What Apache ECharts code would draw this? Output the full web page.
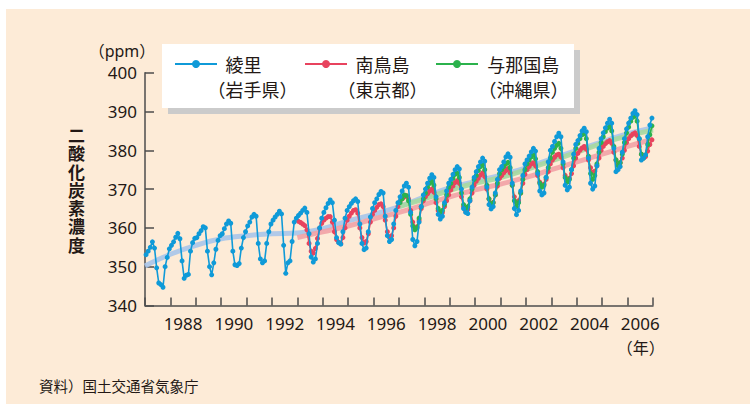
<!DOCTYPE html>
<html><head><meta charset="utf-8">
<script src="https://cdn.jsdelivr.net/npm/echarts@6/dist/echarts.min.js"></script>
<style>
html,body{margin:0;padding:0;background:#fff;}
#wrap{position:relative;width:750px;height:404px;overflow:hidden;}
#panel{position:absolute;left:6px;top:9px;right:0;bottom:0;background:#fdebd7;}
#chart{position:absolute;left:0;top:0;width:750px;height:404px;}
#ytitle{position:absolute;left:67px;top:127px;writing-mode:vertical-rl;text-orientation:upright;
  font:bold 17px "Noto Sans CJK JP",sans-serif;letter-spacing:1.3px;line-height:18px;color:#231815;white-space:nowrap;}
</style></head><body>
<div id="wrap"><div id="panel"></div><div id="chart"></div><div id="ytitle"></div></div>
<script>
// Year categories (x axis)
const years = ['1987','1988','1989','1990','1991','1992','1993','1994','1995','1996',
               '1997','1998','1999','2000','2001','2002','2003','2004','2005','2006'];
const yTicks = [340, 350, 360, 370, 380, 390, 400];

// 綾里（岩手県） monthly, Jan 1987 - Dec 2006
const ryoriStart = 1987;
const ryori = [
 353.1,354.0,355.0,356.4,354.8,349.7,345.8,345.4,344.7,350.0,352.4,354.6,
 355.5,356.4,357.6,358.6,357.2,351.5,347.0,347.8,348.0,354.0,356.2,357.3,
 357.5,358.5,359.3,360.3,360.0,354.0,350.0,347.9,351.0,354.5,356.8,358.0,
 358.5,359.8,361.0,361.8,361.2,354.0,350.5,350.3,350.8,354.8,357.5,359.0,
 360.5,361.5,362.8,363.5,363.0,356.0,352.0,351.0,351.5,356.0,359.0,361.0,
 362.0,362.8,363.5,364.3,363.6,355.5,348.3,351.0,351.5,356.5,361.5,362.5,
 363.2,363.8,364.5,365.1,364.0,358.5,352.5,351.2,352.0,356.0,360.0,362.5,
 364.0,365.2,366.3,367.2,366.5,362.0,357.5,356.2,355.8,359.0,362.5,364.5,
 365.5,366.3,367.0,367.5,366.8,361.0,356.0,354.4,354.8,359.0,362.8,365.0,
 366.5,367.5,368.6,369.4,369.0,363.0,358.0,356.5,357.0,361.0,364.5,366.5,
 368.0,369.5,370.8,371.5,370.5,364.0,357.0,355.4,356.5,361.5,365.5,368.5,
 370.0,371.5,372.8,373.7,373.0,368.0,363.5,362.3,363.0,366.5,369.5,371.5,
 372.5,373.8,375.0,375.8,375.2,370.0,365.0,364.0,363.7,367.0,370.5,373.0,
 374.5,375.8,377.0,378.0,377.2,370.5,366.0,364.9,365.5,369.0,372.5,375.0,
 375.8,377.0,378.3,379.1,378.2,371.5,365.0,363.4,364.5,369.5,373.5,376.5,
 377.5,378.5,379.6,380.5,379.8,374.0,369.5,368.5,369.0,373.0,377.0,380.0,
 381.0,382.3,383.5,384.4,383.5,377.0,371.0,369.8,370.5,375.0,379.0,381.5,
 382.5,383.8,385.0,385.7,384.8,378.0,371.5,370.0,370.8,376.0,380.5,383.0,
 384.5,385.8,387.0,388.0,387.0,380.5,374.5,375.0,375.8,379.5,383.0,385.5,
 387.0,388.3,389.5,390.2,389.2,383.0,377.5,378.0,378.8,383.5,386.5,388.3
];

// 南鳥島（東京都） monthly, Jan 1993 - Dec 2006
const mnmStart = 1993;
const minamitorishima = [
 361.7,361.4,361.0,360.6,359.5,356.0,354.0,353.5,354.7,357.3,359.9,361.2,
 362.0,362.5,362.9,362.9,361.5,359.0,357.0,356.3,356.0,357.5,360.0,362.0,
 363.0,363.8,364.5,364.7,363.8,360.0,357.5,356.1,356.5,358.5,361.5,363.5,
 364.5,365.3,366.0,366.2,365.5,362.0,359.0,357.6,358.0,360.0,363.0,365.5,
 366.8,367.5,368.0,368.3,367.5,364.5,361.5,360.0,360.3,362.0,365.0,367.0,
 368.0,368.8,369.5,370.0,369.2,366.5,364.5,363.5,364.0,365.5,367.0,368.5,
 369.8,370.8,371.7,372.2,371.5,368.0,365.5,364.3,364.8,367.0,369.0,371.0,
 372.0,372.8,373.6,374.2,373.2,370.0,367.5,366.3,366.6,368.5,370.8,372.8,
 373.5,374.2,374.8,375.3,374.2,371.0,368.0,366.5,367.0,369.0,371.5,373.8,
 375.0,375.8,376.5,376.8,376.0,373.5,371.8,371.0,371.3,372.5,374.5,376.5,
 377.5,378.2,378.8,379.0,378.3,375.5,373.5,372.5,372.8,374.0,376.0,378.0,
 379.2,380.0,380.6,381.0,380.3,377.5,375.5,374.3,374.6,376.0,378.0,380.0,
 381.0,381.7,382.2,382.5,381.8,379.5,377.5,376.5,376.8,378.0,380.0,382.0,
 383.0,383.7,384.2,384.5,383.8,381.0,379.0,378.0,378.4,379.8,381.5,382.7
];

// 与那国島（沖縄県） monthly, Jan 1997 - Dec 2006
const yonStart = 1997;
const yonaguni = [
 366.5,367.5,368.5,368.3,367.0,363.5,360.5,359.5,360.0,362.5,365.5,367.5,
 369.0,370.5,371.5,372.0,371.0,367.5,365.0,364.0,364.5,366.0,368.5,370.5,
 371.5,372.8,373.8,374.1,373.0,369.0,366.0,365.0,365.5,367.5,370.0,372.5,
 373.5,374.8,375.8,376.2,375.0,371.0,367.5,366.0,366.5,368.5,371.5,374.0,
 375.0,375.8,376.5,376.9,375.5,371.0,367.0,365.5,366.5,369.0,372.5,375.0,
 376.5,377.5,378.3,378.8,377.8,374.5,371.5,370.5,371.0,373.0,375.5,378.0,
 379.5,380.5,381.3,381.8,380.5,376.5,373.0,371.8,372.5,375.0,378.0,380.5,
 381.8,383.0,384.0,384.4,383.0,378.5,374.0,372.5,373.5,376.5,379.5,382.0,
 383.5,384.8,385.7,386.1,385.0,381.0,377.5,376.0,376.8,379.0,382.0,384.5,
 386.0,387.5,388.5,389.0,387.5,383.0,379.0,378.0,378.8,381.5,384.0,386.3
];

// Smoothed trend values at each year boundary
const ryoriTrend = [350.2,353.2,355.5,357.2,358.0,358.5,358.7,359.8,361.8,363.5,365.5,368.0,370.3,372.0,373.6,375.5,377.8,380.0,382.2,384.2,385.8];
const mnmTrend = [357.5,359.0,360.5,362.3,364.0,366.0,368.0,369.8,371.3,373.0,375.0,377.0,379.0,381.0,382.9];
const yonTrend = [365.5,367.5,369.7,371.5,373.0,375.0,377.3,379.5,381.8,383.7,385.2];

const names = ['綾里', '南鳥島', '与那国島'];
const subNames = ['（岩手県）', '（東京都）', '（沖縄県）'];
const yTitle = '二酸化炭素濃度';
const colors = ['#0f9ad8', '#e8435e', '#2bb24c'];
const trendColors = ['#a9c5ea', '#f2a2a6', '#a7d99f'];

document.getElementById('ytitle').textContent = yTitle;

function monthly(arr, start) { return arr.map((v, i) => [start + (i + 0.5) / 12, v]); }
function yearly(arr, start) { return arr.map((v, i) => [start + i, v]); }

const FONT = '"Noto Sans", "Noto Sans CJK JP", sans-serif';
const JFONT = '"Noto Sans CJK JP", sans-serif';
const TXT = '#231815';

const chart = echarts.init(document.getElementById('chart'), null, {renderer: 'svg'});

function trendSeries(arr, start, color) {
  return {type: 'line', xAxisIndex: 1, data: yearly(arr, start), smooth: 0.4, showSymbol: false,
    lineStyle: {color: color, width: 5, opacity: 0.9}, z: 1, silent: true};
}
function dataSeries(name, arr, start, color, z) {
  return {name: name, type: 'line', xAxisIndex: 1, data: monthly(arr, start), symbol: 'circle',
    symbolSize: 5, showAllSymbol: true, lineStyle: {color: color, width: 1.6},
    itemStyle: {color: color}, z: z};
}

const legendGraphics = [];
const legendPos = [
  {x1: 175, x2: 217, c1: 243.5, c2: 252.5},
  {x1: 305, x2: 347, c1: 382.5, c2: 382.5},
  {x1: 436, x2: 478, c1: 523.3, c2: 523.5}
];
legendGraphics.push({type: 'rect', shape: {x: 168, y: 50, width: 412, height: 64}, style: {fill: '#cbcbcb'}, z: 10});
legendGraphics.push({type: 'rect', shape: {x: 162, y: 44, width: 412, height: 64}, style: {fill: '#ffffff'}, z: 11});
legendPos.forEach((p, i) => {
  legendGraphics.push({type: 'line', shape: {x1: p.x1, y1: 64, x2: p.x2, y2: 64}, style: {stroke: colors[i], lineWidth: 2}, z: 12});
  legendGraphics.push({type: 'circle', shape: {cx: (p.x1 + p.x2) / 2, cy: 64, r: 4}, style: {fill: colors[i]}, z: 12});
  legendGraphics.push({type: 'text', x: p.c1, y: 64, style: {text: names[i], font: '18px ' + JFONT, fill: TXT, textAlign: 'center', textVerticalAlign: 'middle'}, z: 12});
  legendGraphics.push({type: 'text', x: p.c2, y: 89, style: {text: subNames[i], font: '18px ' + JFONT, fill: TXT, textAlign: 'center', textVerticalAlign: 'middle'}, z: 12});
});

const option = {
  animation: false,
  backgroundColor: 'transparent',
  grid: {left: 145, right: 97, top: 72.7, bottom: 98.5, containLabel: false},
  xAxis: [
    {type: 'category', data: years, boundaryGap: true,
     axisLine: {lineStyle: {color: '#4d4d4d', width: 1.5}},
     axisTick: {show: true, inside: true, length: 8, interval: 0, lineStyle: {color: '#4d4d4d', width: 1.5}},
     axisLabel: {interval: (i, v) => Number(v) % 2 === 0, color: TXT, fontSize: 17, fontFamily: FONT, margin: 9},
     splitLine: {show: false}},
    {type: 'value', min: 1987, max: 2007, show: false, splitLine: {show: false}}
  ],
  yAxis: {type: 'value', min: yTicks[0], max: yTicks[yTicks.length - 1], interval: 10,
    axisLine: {show: true, lineStyle: {color: '#4d4d4d', width: 1.5}},
    axisTick: {show: true, inside: true, length: 9, lineStyle: {color: '#4d4d4d', width: 1.5}},
    axisLabel: {color: TXT, fontSize: 17, fontFamily: FONT, margin: 8},
    splitLine: {show: false}},
  series: [
    trendSeries(ryoriTrend, ryoriStart, trendColors[0]),
    trendSeries(mnmTrend, mnmStart, trendColors[1]),
    trendSeries(yonTrend, yonStart, trendColors[2]),
    dataSeries(names[1], minamitorishima, mnmStart, colors[1], 3),
    dataSeries(names[2], yonaguni, yonStart, colors[2], 4),
    dataSeries(names[0], ryori, ryoriStart, colors[0], 5)
  ],
  graphic: legendGraphics.concat([
    {type: 'text', x: 122, y: 50.5, style: {text: '（ppm）', font: '16px ' + FONT, fill: TXT, textAlign: 'center', textVerticalAlign: 'middle'}},
    {type: 'text', x: 640.7, y: 347, style: {text: '（年）', font: '16px ' + JFONT, fill: TXT, textAlign: 'center', textVerticalAlign: 'middle'}},
    {type: 'text', x: 39, y: 385, style: {text: '資料）国土交通省気象庁', font: '14.5px ' + JFONT, fill: TXT, textAlign: 'left', textVerticalAlign: 'middle'}}
  ])
};
chart.setOption(option);
</script>
</body></html>
